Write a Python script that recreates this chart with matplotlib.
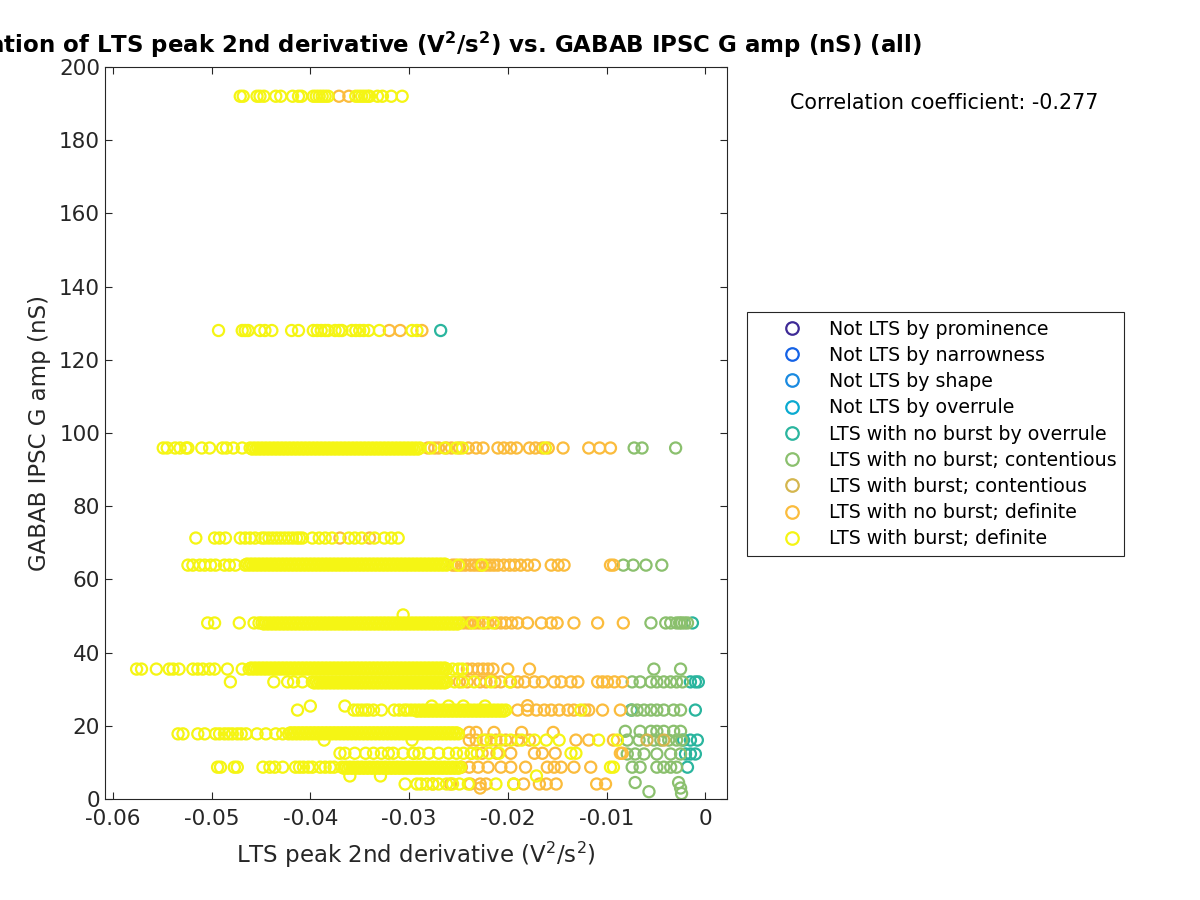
import matplotlib
matplotlib.use("Agg")
import matplotlib.pyplot as plt
from matplotlib.lines import Line2D

# category names, in legend order
labels = ["Not LTS by prominence", "Not LTS by narrowness", "Not LTS by shape",
          "Not LTS by overrule", "LTS with no burst by overrule",
          "LTS with no burst; contentious", "LTS with burst; contentious",
          "LTS with no burst; definite", "LTS with burst; definite"]
colors = ["#3e2a96", "#1462e6", "#1a8ae0", "#0aaad0", "#2ab59e",
          "#8bc06e", "#d4b64e", "#fbbc3d", "#f5f514"]

corr_coef = -0.277

# each category: list of (GABAB IPSC G amp, [LTS peak 2nd derivative values])
burst_definite = [
    (192.0, [-0.0471, -0.0468, -0.0454, -0.0451, -0.0447, -0.0435, -0.0430, -0.0418, -0.0412,
             -0.0409, -0.0397, -0.0394, -0.0391, -0.0388, -0.0385, -0.0382, -0.0354, -0.0351,
             -0.0348, -0.0345, -0.0342, -0.0340, -0.0332, -0.0327, -0.0318, -0.0307]),
    (128.0, [-0.0493, -0.0469, -0.0466, -0.0463, -0.0451, -0.0446, -0.0439, -0.0419, -0.0412,
             -0.0397, -0.0393, -0.0389, -0.0385, -0.0382, -0.0375, -0.0371, -0.0368, -0.0358,
             -0.0354, -0.0350, -0.0346, -0.0341, -0.0330, -0.0297, -0.0292]),
    (95.9, [-0.0549, -0.0545, -0.0537, -0.0532, -0.0526, -0.0524, -0.0510, -0.0502, -0.0489,
            -0.0485, -0.0478, -0.0469, -0.0461, -0.0457, -0.0453, -0.0449, -0.0445, -0.0441,
            -0.0437, -0.0433, -0.0429, -0.0425, -0.0421, -0.0417, -0.0413, -0.0409, -0.0405,
            -0.0401, -0.0397, -0.0393, -0.0389, -0.0385, -0.0381, -0.0377, -0.0373, -0.0369,
            -0.0365, -0.0361, -0.0357, -0.0353, -0.0349, -0.0345, -0.0341, -0.0337, -0.0333,
            -0.0329, -0.0325, -0.0321, -0.0317, -0.0313, -0.0309, -0.0305, -0.0301, -0.0297,
            -0.0293, -0.0289, -0.0278, -0.0264, -0.0252, -0.0246, -0.0162]),
    (95.6, [-0.0459, -0.0455, -0.0451, -0.0447, -0.0443, -0.0439, -0.0435, -0.0431, -0.0427,
            -0.0423, -0.0419, -0.0415, -0.0411, -0.0407, -0.0403, -0.0399, -0.0395, -0.0391,
            -0.0387, -0.0383, -0.0379, -0.0375, -0.0371, -0.0367, -0.0363, -0.0359, -0.0355,
            -0.0351, -0.0347, -0.0343, -0.0339, -0.0335, -0.0331, -0.0327, -0.0323, -0.0319,
            -0.0315, -0.0311, -0.0307, -0.0303, -0.0299, -0.0295, -0.0291]),
    (71.3, [-0.0516, -0.0497, -0.0492, -0.0486, -0.0471, -0.0466, -0.0461, -0.0456, -0.0449,
            -0.0446, -0.0442, -0.0438, -0.0434, -0.0430, -0.0426, -0.0422, -0.0418, -0.0414,
            -0.0411, -0.0408, -0.0398, -0.0391, -0.0385, -0.0378, -0.0361, -0.0355, -0.0348,
            -0.0335, -0.0325, -0.0318, -0.0311]),
    (63.9, [-0.0524, -0.0519, -0.0512, -0.0507, -0.0501, -0.0496, -0.0487, -0.0482, -0.0476,
            -0.0466, -0.0462, -0.0458, -0.0454, -0.0450, -0.0446, -0.0442, -0.0438, -0.0434,
            -0.0430, -0.0426, -0.0422, -0.0418, -0.0414, -0.0410, -0.0406, -0.0402, -0.0398,
            -0.0394, -0.0390, -0.0386, -0.0382, -0.0378, -0.0374, -0.0370, -0.0366, -0.0362,
            -0.0358, -0.0354, -0.0350, -0.0346, -0.0342, -0.0338, -0.0334, -0.0330, -0.0326,
            -0.0322, -0.0318, -0.0314, -0.0310, -0.0306, -0.0302, -0.0298, -0.0294, -0.0290,
            -0.0286, -0.0282, -0.0278, -0.0274, -0.0270, -0.0266, -0.0262, -0.0250, -0.0226]),
    (64.2, [-0.0464, -0.0460, -0.0456, -0.0452, -0.0448, -0.0444, -0.0440, -0.0436, -0.0432,
            -0.0428, -0.0424, -0.0420, -0.0416, -0.0412, -0.0408, -0.0404, -0.0400, -0.0396,
            -0.0392, -0.0388, -0.0384, -0.0380, -0.0376, -0.0372, -0.0368, -0.0364, -0.0360,
            -0.0356, -0.0352, -0.0348, -0.0344, -0.0340, -0.0336, -0.0332, -0.0328, -0.0324,
            -0.0320, -0.0316, -0.0312, -0.0308, -0.0304, -0.0300, -0.0296, -0.0292, -0.0288,
            -0.0284, -0.0280, -0.0276, -0.0272, -0.0268, -0.0264]),
    (50.3, [-0.0306]),
    (48.1, [-0.0504, -0.0497, -0.0472, -0.0457, -0.0452, -0.0449, -0.0445, -0.0441, -0.0437,
            -0.0433, -0.0429, -0.0425, -0.0421, -0.0417, -0.0413, -0.0409, -0.0405, -0.0401,
            -0.0397, -0.0393, -0.0389, -0.0385, -0.0381, -0.0377, -0.0373, -0.0369, -0.0365,
            -0.0361, -0.0357, -0.0353, -0.0349, -0.0345, -0.0341, -0.0337, -0.0333, -0.0329,
            -0.0325, -0.0321, -0.0317, -0.0313, -0.0309, -0.0305, -0.0301, -0.0297, -0.0293,
            -0.0289, -0.0285, -0.0281, -0.0277, -0.0273, -0.0269, -0.0265, -0.0261, -0.0257,
            -0.0253, -0.0249, -0.0236, -0.0225, -0.0215]),
    (47.8, [-0.0447, -0.0443, -0.0439, -0.0435, -0.0431, -0.0427, -0.0423, -0.0419, -0.0415,
            -0.0411, -0.0407, -0.0403, -0.0399, -0.0395, -0.0391, -0.0387, -0.0383, -0.0379,
            -0.0375, -0.0371, -0.0367, -0.0363, -0.0359, -0.0355, -0.0351, -0.0347, -0.0343,
            -0.0339, -0.0335, -0.0331, -0.0327, -0.0323, -0.0319, -0.0315, -0.0311, -0.0307,
            -0.0303, -0.0299, -0.0295, -0.0291, -0.0287, -0.0283, -0.0279, -0.0275, -0.0271,
            -0.0267, -0.0263, -0.0259, -0.0255, -0.0251]),
    (35.5, [-0.0576, -0.0571, -0.0556, -0.0543, -0.0539, -0.0533, -0.0519, -0.0514, -0.0509,
            -0.0502, -0.0497, -0.0484, -0.0469, -0.0462, -0.0458, -0.0454, -0.0450, -0.0446,
            -0.0442, -0.0438, -0.0434, -0.0430, -0.0426, -0.0422, -0.0418, -0.0414, -0.0410,
            -0.0406, -0.0402, -0.0398, -0.0394, -0.0390, -0.0386, -0.0382, -0.0378, -0.0374,
            -0.0370, -0.0366, -0.0362, -0.0358, -0.0354, -0.0350, -0.0346, -0.0342, -0.0338,
            -0.0334, -0.0330, -0.0326, -0.0322, -0.0318, -0.0314, -0.0310, -0.0306, -0.0302,
            -0.0298, -0.0294, -0.0290, -0.0286, -0.0282, -0.0278, -0.0274, -0.0270, -0.0266,
            -0.0262, -0.0256, -0.0250, -0.0246]),
    (35.8, [-0.0460, -0.0456, -0.0452, -0.0448, -0.0444, -0.0440, -0.0436, -0.0432, -0.0428,
            -0.0424, -0.0420, -0.0416, -0.0412, -0.0408, -0.0404, -0.0400, -0.0396, -0.0392,
            -0.0388, -0.0384, -0.0380, -0.0376, -0.0372, -0.0368, -0.0364, -0.0360, -0.0356,
            -0.0352, -0.0348, -0.0344, -0.0340, -0.0336, -0.0332, -0.0328, -0.0324, -0.0320,
            -0.0316, -0.0312, -0.0308, -0.0304, -0.0300, -0.0296, -0.0292, -0.0288, -0.0284,
            -0.0280, -0.0276, -0.0272, -0.0268, -0.0264]),
    (32.0, [-0.0481, -0.0437, -0.0423, -0.0417, -0.0408, -0.0398, -0.0394, -0.0390, -0.0386,
            -0.0382, -0.0378, -0.0374, -0.0370, -0.0366, -0.0362, -0.0358, -0.0354, -0.0350,
            -0.0346, -0.0342, -0.0338, -0.0334, -0.0330, -0.0326, -0.0322, -0.0318, -0.0314,
            -0.0310, -0.0306, -0.0302, -0.0298, -0.0294, -0.0290, -0.0286, -0.0282, -0.0278,
            -0.0274, -0.0270, -0.0266, -0.0262, -0.0254, -0.0246, -0.0234, -0.0217, -0.0198]),
    (31.7, [-0.0396, -0.0392, -0.0388, -0.0384, -0.0380, -0.0376, -0.0372, -0.0368, -0.0364,
            -0.0360, -0.0356, -0.0352, -0.0348, -0.0344, -0.0340, -0.0336, -0.0332, -0.0328,
            -0.0324, -0.0320, -0.0316, -0.0312, -0.0308, -0.0304, -0.0300, -0.0296, -0.0292,
            -0.0288, -0.0284, -0.0280, -0.0276, -0.0272, -0.0268, -0.0264]),
    (25.4, [-0.0400, -0.0365, -0.0277, -0.0260, -0.0245, -0.0223]),
    (24.3, [-0.0413, -0.0356, -0.0352, -0.0348, -0.0344, -0.0341, -0.0336, -0.0328, -0.0315,
            -0.0310, -0.0305, -0.0302, -0.0298, -0.0294, -0.0290, -0.0286, -0.0282, -0.0278,
            -0.0274, -0.0270, -0.0266, -0.0262, -0.0258, -0.0254, -0.0250, -0.0246, -0.0242,
            -0.0238, -0.0234, -0.0230, -0.0226, -0.0222, -0.0218, -0.0214, -0.0210, -0.0206,
            -0.0202, -0.0126]),
    (24.0, [-0.0292, -0.0288, -0.0284, -0.0280, -0.0276, -0.0272, -0.0268, -0.0264, -0.0260,
            -0.0256, -0.0252, -0.0248, -0.0244, -0.0240, -0.0236, -0.0232, -0.0228, -0.0224,
            -0.0220, -0.0216, -0.0212, -0.0208, -0.0204]),
    (17.8, [-0.0534, -0.0529, -0.0514, -0.0507, -0.0496, -0.0492, -0.0487, -0.0483, -0.0479,
            -0.0474, -0.0470, -0.0465, -0.0454, -0.0445, -0.0435, -0.0428, -0.0422, -0.0418,
            -0.0414, -0.0410, -0.0406, -0.0402, -0.0398, -0.0394, -0.0390, -0.0386, -0.0382,
            -0.0378, -0.0374, -0.0370, -0.0366, -0.0362, -0.0358, -0.0354, -0.0350, -0.0346,
            -0.0342, -0.0338, -0.0334, -0.0330, -0.0326, -0.0322, -0.0318, -0.0314, -0.0310,
            -0.0306, -0.0302, -0.0298, -0.0294, -0.0290, -0.0286, -0.0282, -0.0278, -0.0274,
            -0.0270, -0.0266, -0.0262, -0.0258, -0.0254, -0.0250]),
    (18.1, [-0.0420, -0.0416, -0.0412, -0.0408, -0.0404, -0.0400, -0.0396, -0.0392, -0.0388,
            -0.0384, -0.0380, -0.0376, -0.0372, -0.0368, -0.0364, -0.0360, -0.0356, -0.0352,
            -0.0348, -0.0344, -0.0340, -0.0336, -0.0332, -0.0328, -0.0324, -0.0320, -0.0316,
            -0.0312, -0.0308, -0.0304, -0.0300, -0.0296, -0.0292, -0.0288, -0.0284, -0.0280,
            -0.0276, -0.0272, -0.0268, -0.0264, -0.0260, -0.0256, -0.0252]),
    (16.1, [-0.0386, -0.0297, -0.0225, -0.0217, -0.0207, -0.0197, -0.0186, -0.0173, -0.0161,
            -0.0148, -0.0108, -0.0089]),
    (12.5, [-0.0370, -0.0365, -0.0355, -0.0344, -0.0336, -0.0328, -0.0321, -0.0316, -0.0306,
            -0.0296, -0.0295, -0.0290, -0.0280, -0.0270, -0.0260, -0.0252, -0.0245, -0.0237,
            -0.0231, -0.0219, -0.0209, -0.0136, -0.0131]),
    (8.7, [-0.0494, -0.0491, -0.0477, -0.0474, -0.0448, -0.0441, -0.0436, -0.0428, -0.0415,
           -0.0411, -0.0407, -0.0402, -0.0398, -0.0390, -0.0385, -0.0380, -0.0376, -0.0368,
           -0.0364, -0.0360, -0.0356, -0.0352, -0.0348, -0.0344, -0.0340, -0.0336, -0.0332,
           -0.0328, -0.0324, -0.0320, -0.0316, -0.0312, -0.0308, -0.0304, -0.0300, -0.0296,
           -0.0292, -0.0288, -0.0284, -0.0280, -0.0276, -0.0272, -0.0268, -0.0264, -0.0260,
           -0.0256, -0.0252, -0.0248, -0.0096, -0.0093]),
    (8.4, [-0.0366, -0.0362, -0.0358, -0.0354, -0.0350, -0.0346, -0.0342, -0.0338, -0.0334,
           -0.0330, -0.0326, -0.0322, -0.0318, -0.0314, -0.0310, -0.0306, -0.0302, -0.0298,
           -0.0294, -0.0290, -0.0286, -0.0282, -0.0278, -0.0274, -0.0270, -0.0266, -0.0262,
           -0.0258, -0.0254, -0.0250]),
    (6.3, [-0.0360, -0.0329, -0.0171]),
    (4.1, [-0.0304, -0.0292, -0.0288, -0.0282, -0.0276, -0.0270, -0.0262, -0.0256, -0.0249,
           -0.0240, -0.0212, -0.0194]),
]

no_burst_definite = [
    (192.0, [-0.0371, -0.0361]),
    (128.0, [-0.0320, -0.0309, -0.0287]),
    (95.9, [-0.0281, -0.0274, -0.0270, -0.0262, -0.0257, -0.0249, -0.0240, -0.0232, -0.0225,
            -0.0210, -0.0204, -0.0197, -0.0191, -0.0178, -0.0172, -0.0165, -0.0159, -0.0144,
            -0.0118, -0.0107, -0.0096]),
    (71.3, [-0.0370, -0.0340]),
    (63.9, [-0.0256, -0.0253, -0.0247, -0.0243, -0.0238, -0.0234, -0.0230, -0.0227, -0.0222,
            -0.0218, -0.0214, -0.0210, -0.0204, -0.0198, -0.0193, -0.0187, -0.0180, -0.0173,
            -0.0156, -0.0149, -0.0143, -0.0096, -0.0093]),
    (48.1, [-0.0245, -0.0241, -0.0238, -0.0233, -0.0229, -0.0224, -0.0220, -0.0212, -0.0207,
            -0.0202, -0.0196, -0.0190, -0.0180, -0.0166, -0.0156, -0.0150, -0.0133, -0.0109,
            -0.0083]),
    (35.5, [-0.0241, -0.0236, -0.0230, -0.0225, -0.0220, -0.0215, -0.0200, -0.0178]),
    (32.0, [-0.0262, -0.0249, -0.0241, -0.0228, -0.0222, -0.0213, -0.0207, -0.0197, -0.0190,
            -0.0183, -0.0173, -0.0165, -0.0153, -0.0146, -0.0136, -0.0129, -0.0109, -0.0104,
            -0.0099, -0.0092, -0.0084]),
    (25.5, [-0.0180]),
    (24.3, [-0.0190, -0.0180, -0.0171, -0.0163, -0.0156, -0.0148, -0.0139, -0.0133, -0.0122,
            -0.0118, -0.0104, -0.0086]),
    (18.2, [-0.0239, -0.0232, -0.0214, -0.0186, -0.0154]),
    (16.1, [-0.0239, -0.0232, -0.0222, -0.0212, -0.0202, -0.0190, -0.0178, -0.0131, -0.0118,
            -0.0093]),
    (12.5, [-0.0237, -0.0226, -0.0211, -0.0197, -0.0173, -0.0165, -0.0152, -0.0086, -0.0084]),
    (8.7, [-0.0247, -0.0239, -0.0230, -0.0220, -0.0207, -0.0197, -0.0182, -0.0160, -0.0153,
           -0.0146, -0.0133, -0.0116]),
    (4.1, [-0.0276, -0.0258, -0.0238, -0.0228, -0.0222, -0.0194, -0.0184, -0.0168, -0.0161,
           -0.0151, -0.0110, -0.0101]),
    (3.0, [-0.0228]),
]

burst_contentious = [
    (16.1, [-0.0059, -0.0042]),
]

no_burst_contentious = [
    (95.9, [-0.0072, -0.0064, -0.0030]),
    (63.9, [-0.0083, -0.0073, -0.0060, -0.0044]),
    (48.1, [-0.0055, -0.0040, -0.0035, -0.0029, -0.0026, -0.0024, -0.0021, -0.0018]),
    (35.5, [-0.0052, -0.0025]),
    (32.0, [-0.0074, -0.0066, -0.0055, -0.0049, -0.0042, -0.0035, -0.0029, -0.0023]),
    (24.3, [-0.0074, -0.0069, -0.0062, -0.0055, -0.0049, -0.0042, -0.0032, -0.0025]),
    (18.5, [-0.0081, -0.0066, -0.0055, -0.0049, -0.0042, -0.0032, -0.0025]),
    (16.1, [-0.0079, -0.0067, -0.0052, -0.0045, -0.0037, -0.0029, -0.0024]),
    (12.3, [-0.0079, -0.0071, -0.0062, -0.0049, -0.0035, -0.0025]),
    (8.7, [-0.0074, -0.0066, -0.0049, -0.0042, -0.0035, -0.0029]),
    (4.5, [-0.0071, -0.0027]),
    (3.0, [-0.0025]),
    (2.0, [-0.0057]),
    (1.5, [-0.0024]),
]

no_burst_overrule = [
    (128.0, [-0.0268]),
    (48.1, [-0.0013]),
    (32.0, [-0.0015, -0.0010, -0.0007]),
    (24.3, [-0.0075, -0.0010]),
    (16.1, [-0.0022, -0.0015, -0.0008]),
    (12.3, [-0.0020, -0.0015, -0.0010]),
    (8.7, [-0.0018]),
]

# the "Not LTS" groups have no points in this plot
groups = [[], [], [], [], no_burst_overrule, no_burst_contentious,
          burst_contentious, no_burst_definite, burst_definite]


def flatten(rows):
    xs, ys = [], []
    for y, xlist in rows:
        xs += xlist
        ys += [y] * len(xlist)
    return xs, ys


fig = plt.figure(figsize=(12, 9), dpi=100)
ax = fig.add_axes([0.0875, 0.1122, 0.5183, 0.8134])

for rows, color in zip(groups, colors):
    xs, ys = flatten(rows)
    if xs:
        ax.scatter(xs, ys, s=64, facecolors="none", edgecolors=color, linewidths=1.6)

ax.set_xlim(-0.0608, 0.0022)
ax.set_ylim(0, 200)
ax.set_xticks([-0.06, -0.05, -0.04, -0.03, -0.02, -0.01, 0])
ax.set_xticklabels(["-0.06", "-0.05", "-0.04", "-0.03", "-0.02", "-0.01", "0"])
ax.set_yticks(range(0, 201, 20))
ax.tick_params(direction="in", top=True, right=True, length=5, width=0.8,
               labelsize=15.5, colors="#262626")
ax.tick_params(axis="x", pad=7)
for sp in ax.spines.values():
    sp.set_color("#262626")
    sp.set_linewidth(0.8)

ax.set_xlabel("LTS peak 2nd derivative (V$^2$/s$^2$)", fontsize=16.5, color="#262626",
              labelpad=8)
ax.set_ylabel("GABAB IPSC G amp (nS)", fontsize=16.5, color="#262626", labelpad=6)
ax.set_title(r"Correlation of LTS peak 2nd derivative (V$^\mathbf{2}$/s$^\mathbf{2}$) vs. GABAB IPSC G amp (nS) (all)",
             fontsize=16.5, fontweight="bold", pad=10)

fig.text(790 / 1200, 1 - 103 / 900, f"Correlation coefficient: {corr_coef}",
         fontsize=14.9, va="center", ha="left")

handles = [Line2D([], [], linestyle="none", marker="o", markersize=9, markerfacecolor="none",
                  markeredgecolor=c, markeredgewidth=1.6) for c in colors]
leg = fig.legend(handles, labels, loc="upper left", bbox_to_anchor=(747 / 1200, 1 - 312 / 900),
                 fontsize=13.7, frameon=True, fancybox=False, framealpha=1, edgecolor="#262626",
                 handlelength=3.9, handletextpad=0.0, labelspacing=0.38, borderpad=0.4,
                 borderaxespad=0)
leg.get_frame().set_linewidth(0.8)

fig.savefig("out.png", dpi=100)
plt.close(fig)
